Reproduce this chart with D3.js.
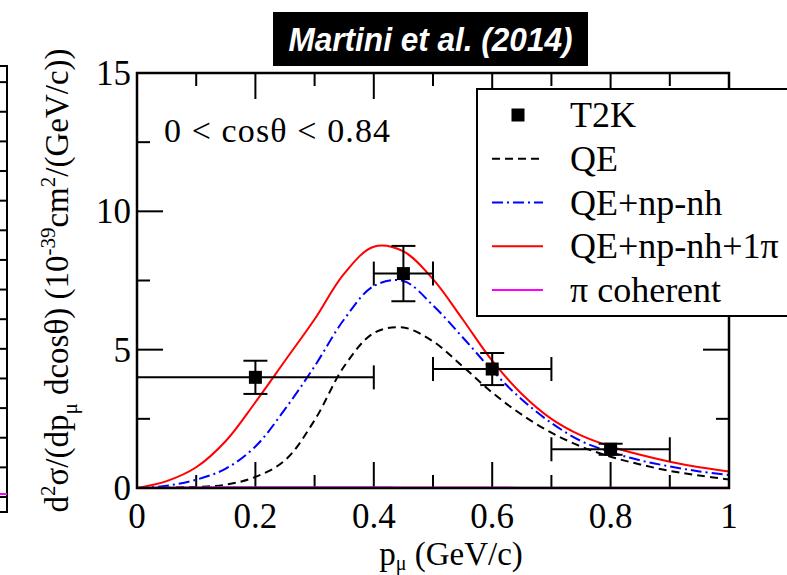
<!DOCTYPE html>
<html>
<head>
<meta charset="utf-8">
<script src="https://cdn.jsdelivr.net/npm/d3@7"></script>
<style>
  body { margin: 0; background: #fff; }
  svg { display: block; }
  text { font-family: "Liberation Serif", "Times New Roman", serif; fill: #000; }
</style>
</head>
<body>
<div id="chart"></div>
<script>
// momentum grid (GeV/c) the model curves are read at
const pGrid = [0, 0.05, 0.1, 0.15, 0.2, 0.25, 0.3, 0.35, 0.4, 0.45, 0.5,
               0.55, 0.6, 0.65, 0.7, 0.75, 0.8, 0.85, 0.9, 0.95, 1.0];
// model curves (10^-39 cm^2/(GeV/c))
const qe        = [0, 0.01, 0.04, 0.12, 0.4, 1.0, 2.45, 4.4, 5.6, 5.8, 5.3,
                   4.4, 3.45, 2.65, 2.0, 1.5, 1.13, 0.85, 0.62, 0.45, 0.31];
const qeNpnh    = [0, 0.08, 0.3, 0.7, 1.5, 2.85, 4.4, 6.1, 7.3, 7.48, 6.6,
                   5.45, 4.25, 3.2, 2.35, 1.7, 1.3, 1.0, 0.78, 0.6, 0.47];
const qeNpnh1pi = [0, 0.25, 0.75, 1.7, 3.1, 4.6, 6.1, 7.75, 8.72, 8.55, 7.55,
                   6.1, 4.6, 3.4, 2.5, 1.9, 1.5, 1.2, 0.95, 0.75, 0.6];
const piCoh     = [0, 0.01, 0.02, 0.03, 0.03, 0.03, 0.03, 0.03, 0.03, 0.02, 0.02,
                   0.02, 0.02, 0.01, 0.01, 0.01, 0.01, 0.01, 0.01, 0.01, 0.01];

// T2K data points
const t2kP   = [0.2, 0.45, 0.6, 0.8];
const t2kLo  = [0.0, 0.4, 0.5, 0.7];
const t2kHi  = [0.4, 0.5, 0.7, 0.9];
const t2kXs  = [4.0, 7.75, 4.3, 1.4];
const t2kErr = [0.6, 1.0, 0.58, 0.2];

const xMajor = [0, 0.2, 0.4, 0.6, 0.8, 1.0];
const xMinor = [0.1, 0.3, 0.5, 0.7, 0.9];
const xLabels = ["0", "0.2", "0.4", "0.6", "0.8", "1"];
const yMajor = [0, 5, 10, 15];
const yMinor = [2.5, 7.5, 12.5];
const legendLabels = ["T2K", "QE", "QE+np-nh", "QE+np-nh+1\u03c0", "\u03c0 coherent"];

const W = 787, H = 575;
const L = 137, R = 729, T = 73, B = 488;

const svg = d3.select("#chart").append("svg")
  .attr("width", W).attr("height", H);
svg.append("rect").attr("width", W).attr("height", H).attr("fill", "#fff");

const x = d3.scaleLinear().domain([0, 1]).range([L, R]);
const y = d3.scaleLinear().domain([0, 15]).range([B, T]);

// edge of the neighbouring panel, cut off on the left
const yn = d3.scaleLinear().domain([0, 15]).range([497, 52.5]);
const nb = svg.append("g").attr("stroke", "#000").attr("stroke-width", 2);
nb.append("path").attr("fill", "none").attr("d", "M0,66H7V512H0");
nb.selectAll(".nt").data(d3.range(0, 15)).enter().append("line")
  .attr("x1", 0).attr("x2", 7)
  .attr("y1", d => yn(d)).attr("y2", d => yn(d));
svg.append("line").attr("x1", 0).attr("x2", 7).attr("y1", 494).attr("y2", 494)
  .attr("stroke", "#ff00ff").attr("stroke-width", 2);

// ticks on all four sides, pointing inward
const tk = svg.append("g").attr("stroke", "#000").attr("stroke-width", 2);
[[xMajor, 26], [xMinor, 13]].forEach(([vals, len]) => {
  vals.forEach(v => {
    tk.append("line").attr("x1", x(v)).attr("x2", x(v)).attr("y1", B).attr("y2", B - len);
    tk.append("line").attr("x1", x(v)).attr("x2", x(v)).attr("y1", T).attr("y2", T + len);
  });
});
[[yMajor, 26], [yMinor, 13]].forEach(([vals, len]) => {
  vals.forEach(v => {
    tk.append("line").attr("x1", L).attr("x2", L + len).attr("y1", y(v)).attr("y2", y(v));
    tk.append("line").attr("x1", R).attr("x2", R - len).attr("y1", y(v)).attr("y2", y(v));
  });
});

// tick labels
svg.selectAll(".xl").data(xMajor).enter().append("text")
  .attr("x", d => x(d)).attr("y", 528)
  .attr("text-anchor", "middle").attr("font-size", 35)
  .text((d, i) => xLabels[i]);
svg.selectAll(".yl").data(yMajor).enter().append("text")
  .attr("x", 131).attr("y", d => y(d) + 12)
  .attr("text-anchor", "end").attr("font-size", 35)
  .text(d => d);

// curves
const clip = svg.append("clipPath").attr("id", "plotclip");
clip.append("rect").attr("x", L).attr("y", T).attr("width", R - L).attr("height", B - T);
const line = d3.line().x(d => x(d[0])).y(d => y(d[1])).curve(d3.curveCatmullRom.alpha(0.5));
const series = [
  { vals: qe, color: "#000", dash: "8,5" },
  { vals: qeNpnh, color: "#0000ff", dash: "11,4,2,4" },
  { vals: qeNpnh1pi, color: "#ff0000", dash: null },
  { vals: piCoh, color: "#ff00ff", dash: null }
];
const cg = svg.append("g").attr("clip-path", "url(#plotclip)");
series.forEach(s => {
  cg.append("path")
    .datum(pGrid.map((p, i) => [p, s.vals[i]]))
    .attr("fill", "none").attr("stroke", s.color).attr("stroke-width", 2)
    .attr("stroke-dasharray", s.dash)
    .attr("d", line);
});

// T2K error bars and markers
const eb = svg.append("g").attr("stroke", "#000").attr("stroke-width", 2);
t2kP.forEach((p, i) => {
  const yc = y(t2kXs[i]), y0 = y(t2kXs[i] - t2kErr[i]), y1 = y(t2kXs[i] + t2kErr[i]);
  eb.append("line").attr("x1", x(t2kLo[i])).attr("x2", x(t2kHi[i])).attr("y1", yc).attr("y2", yc);
  eb.append("line").attr("x1", x(t2kLo[i])).attr("x2", x(t2kLo[i])).attr("y1", yc - 12).attr("y2", yc + 12);
  eb.append("line").attr("x1", x(t2kHi[i])).attr("x2", x(t2kHi[i])).attr("y1", yc - 12).attr("y2", yc + 12);
  eb.append("line").attr("x1", x(p)).attr("x2", x(p)).attr("y1", y0).attr("y2", y1);
  eb.append("line").attr("x1", x(p) - 12).attr("x2", x(p) + 12).attr("y1", y0).attr("y2", y0);
  eb.append("line").attr("x1", x(p) - 12).attr("x2", x(p) + 12).attr("y1", y1).attr("y2", y1);
});
svg.selectAll(".pt").data(t2kP).enter().append("rect")
  .attr("x", d => x(d) - 6.5).attr("y", (d, i) => y(t2kXs[i]) - 6.5)
  .attr("width", 13).attr("height", 13).attr("fill", "#000");

// frame
svg.append("rect").attr("x", L).attr("y", T).attr("width", R - L).attr("height", B - T)
  .attr("fill", "none").attr("stroke", "#000").attr("stroke-width", 2.5);

// annotation
svg.append("text").attr("x", 164).attr("y", 142).attr("font-size", 34)
  .attr("textLength", 226).attr("lengthAdjust", "spacing")
  .text("0 < cos\u03b8 < 0.84");

// legend
const lg = svg.append("g");
lg.append("rect").attr("x", 477).attr("y", 89).attr("width", 330).attr("height", 227)
  .attr("fill", "#fff").attr("stroke", "#000").attr("stroke-width", 2);
legendLabels.forEach((lab, i) => {
  const ly = 115 + 43.75 * i;
  if (i === 0) {
    lg.append("rect").attr("x", 511.5).attr("y", ly - 6.5).attr("width", 13).attr("height", 13).attr("fill", "#000");
  } else {
    const s = series[i - 1];
    lg.append("line").attr("x1", 492).attr("x2", 543).attr("y1", ly).attr("y2", ly)
      .attr("stroke", s.color).attr("stroke-width", 2).attr("stroke-dasharray", s.dash);
  }
  lg.append("text").attr("x", 570).attr("y", ly + 12).attr("font-size", 36).text(lab);
});

// title box
svg.append("rect").attr("x", 273).attr("y", 12).attr("width", 315).attr("height", 54).attr("fill", "#000");
svg.append("text").attr("x", 430.5).attr("y", 51).attr("text-anchor", "middle")
  .style("font-family", "'Liberation Sans Narrow', 'Liberation Sans', Arial, sans-serif")
  .attr("font-size", 34).attr("font-weight", "bold").attr("font-style", "italic")
  .attr("textLength", 284).attr("lengthAdjust", "spacingAndGlyphs")
  .style("fill", "#fff")
  .text("Martini et al. (2014)");

// axis titles
const xt = svg.append("text").attr("x", 451).attr("y", 565)
  .attr("text-anchor", "middle").attr("font-size", 33);
xt.append("tspan").text("p");
xt.append("tspan").attr("font-size", 20).attr("dy", 5).text("\u03bc");
xt.append("tspan").attr("dy", -5).text(" (GeV/c)");

const yt = svg.append("text").attr("transform", `translate(68,${(T + B) / 2}) rotate(-90)`)
  .attr("text-anchor", "middle").attr("font-size", 33);
yt.append("tspan").text("d");
yt.append("tspan").attr("font-size", 21).attr("dy", -13).text("2");
yt.append("tspan").attr("dy", 13).text("\u03c3/(dp");
yt.append("tspan").attr("font-size", 21).attr("dy", 9).text("\u03bc");
yt.append("tspan").attr("dy", -9).text(" dcos\u03b8) (10");
yt.append("tspan").attr("font-size", 21).attr("dy", -13).text("-39");
yt.append("tspan").attr("dy", 13).text("cm");
yt.append("tspan").attr("font-size", 21).attr("dy", -13).text("2");
yt.append("tspan").attr("dy", 13).text("/(GeV/c))");
</script>
</body>
</html>
